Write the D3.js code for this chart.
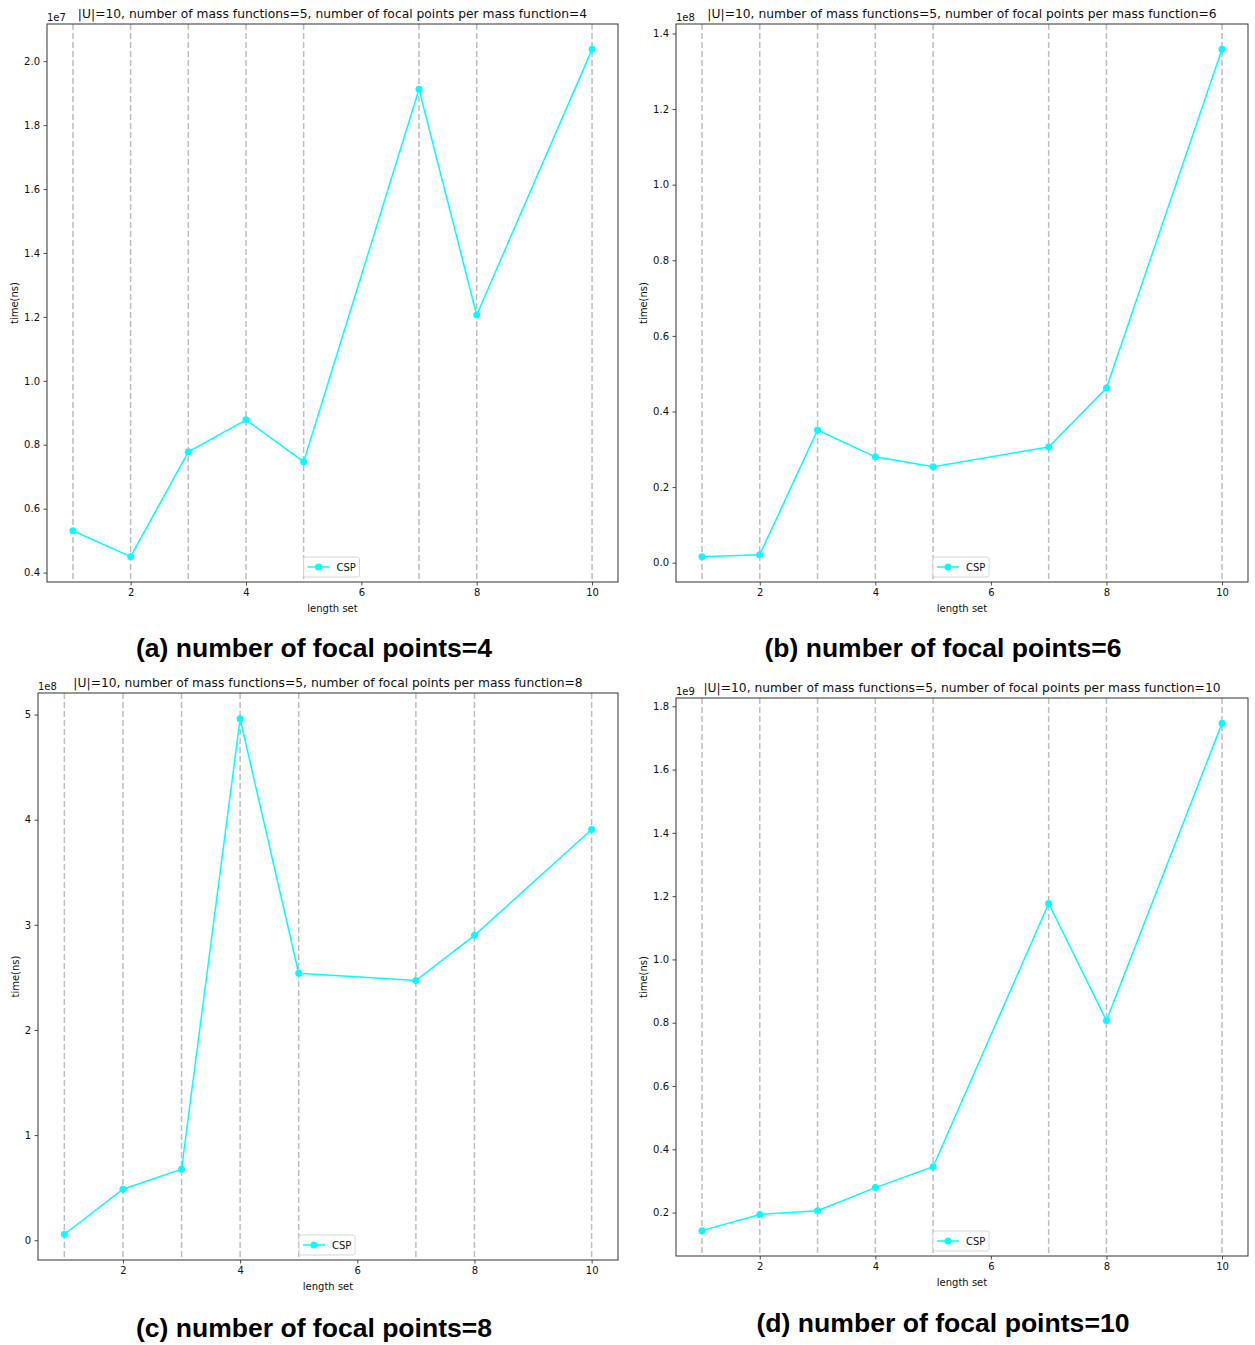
<!DOCTYPE html>
<html>
<head>
<meta charset="utf-8">
<script src="https://cdn.jsdelivr.net/npm/d3@7"></script>
<style>
  html, body { margin: 0; padding: 0; background: #ffffff; }
  svg { display: block; }
</style>
</head>
<body>
<svg id="chart" width="1255" height="1345"></svg>
<script>
// ---------------- DATA ----------------
const lengthSet = [1, 2, 3, 4, 5, 7, 8, 10];           // x values (length set)
const xTicks = [2, 4, 6, 8, 10];

// time(ns), expressed in units of the offset shown above each axis
const cspFocal4  = [0.531, 0.450, 0.778, 0.878, 0.747, 1.912, 1.206, 2.037]; // x1e7
const cspFocal6  = [0.016, 0.021, 0.351, 0.280, 0.254, 0.306, 0.462, 1.358]; // x1e8
const cspFocal8  = [0.057, 0.485, 0.675, 4.960, 2.540, 2.470, 2.900, 3.907]; // x1e8
const cspFocal10 = [0.143, 0.194, 0.206, 0.279, 0.345, 1.177, 0.807, 1.746]; // x1e9

const yTicks4  = [0.4, 0.6, 0.8, 1.0, 1.2, 1.4, 1.6, 1.8, 2.0];
const yTicks6  = [0.0, 0.2, 0.4, 0.6, 0.8, 1.0, 1.2, 1.4];
const yTicks8  = [0, 1, 2, 3, 4, 5];
const yTicks10 = [0.2, 0.4, 0.6, 0.8, 1.0, 1.2, 1.4, 1.6, 1.8];

const offsets = ["1e7", "1e8", "1e8", "1e9"];
const titles = [
  "|U|=10, number of mass functions=5, number of focal points per mass function=4",
  "|U|=10, number of mass functions=5, number of focal points per mass function=6",
  "|U|=10, number of mass functions=5, number of focal points per mass function=8",
  "|U|=10, number of mass functions=5, number of focal points per mass function=10"
];
const captions = [
  "(a) number of focal points=4",
  "(b) number of focal points=6",
  "(c) number of focal points=8",
  "(d) number of focal points=10"
];
const seriesName = "CSP";
const xLabel = "length set";
const yLabel = "time(ns)";

// ---------------- LAYOUT ----------------
const panels = [
  { vals: cspFocal4,  ticks: yTicks4,  fmt: ".1f", box: {l: 47,  r: 618,  t: 24,  b: 582},  cap: {x: 314, y: 657, w: 356} },
  { vals: cspFocal6,  ticks: yTicks6,  fmt: ".1f", box: {l: 676, r: 1248, t: 24,  b: 582},  cap: {x: 943, y: 657, w: 357} },
  { vals: cspFocal8,  ticks: yTicks8,  fmt: "d",   box: {l: 38,  r: 618,  t: 693, b: 1260}, cap: {x: 314, y: 1337, w: 356} },
  { vals: cspFocal10, ticks: yTicks10, fmt: ".1f", box: {l: 676, r: 1248, t: 698, b: 1256}, cap: {x: 943, y: 1332, w: 373} }
];

const svg = d3.select("#chart");
const FONT = "DejaVu Sans, sans-serif";
const CYAN = "#00ffff";

panels.forEach((p, i) => {
  const b = p.box;
  const xMin = d3.min(lengthSet), xMax = d3.max(lengthSet);
  const xPad = (xMax - xMin) * 0.05;
  const x = d3.scaleLinear().domain([xMin - xPad, xMax + xPad]).range([b.l, b.r]);
  const yMin = d3.min(p.vals), yMax = d3.max(p.vals);
  const yPad = (yMax - yMin) * 0.05;
  const y = d3.scaleLinear().domain([yMin - yPad, yMax + yPad]).range([b.b, b.t]);

  const g = svg.append("g");

  // vertical dashed lines at each x value
  g.selectAll("line.vl").data(lengthSet).enter().append("line")
    .attr("x1", d => x(d)).attr("x2", d => x(d))
    .attr("y1", b.t).attr("y2", b.b)
    .attr("stroke", "#bdbdbd").attr("stroke-width", 1.5)
    .attr("stroke-dasharray", "6,3");

  // line
  const pts = lengthSet.map((d, j) => [d, p.vals[j]]);
  g.append("path").datum(pts)
    .attr("fill", "none").attr("stroke", CYAN).attr("stroke-width", 1.5)
    .attr("d", d3.line().x(d => x(d[0])).y(d => y(d[1])));
  g.selectAll("circle.pt").data(pts).enter().append("circle")
    .attr("cx", d => x(d[0])).attr("cy", d => y(d[1])).attr("r", 3.5)
    .attr("fill", CYAN);

  // axes
  const xAxis = d3.axisBottom(x).tickValues(xTicks).tickSize(3.5).tickPadding(3.5).tickFormat(d3.format("d"));
  const yAxis = d3.axisLeft(y).tickValues(p.ticks).tickSize(3.5).tickPadding(3.5).tickFormat(d3.format(p.fmt));
  const gx = g.append("g").attr("transform", `translate(0,${b.b})`).call(xAxis);
  const gy = g.append("g").attr("transform", `translate(${b.l},0)`).call(yAxis);
  [gx, gy].forEach(a => {
    a.select(".domain").remove();
    a.selectAll("text").attr("font-family", FONT).attr("font-size", 10).attr("fill", "#111");
    a.selectAll("line").attr("stroke", "#222").attr("stroke-width", 0.8);
  });

  // frame
  g.append("rect").attr("x", b.l).attr("y", b.t).attr("width", b.r - b.l).attr("height", b.b - b.t)
    .attr("fill", "none").attr("stroke", "#333").attr("stroke-width", 1);

  // offset text
  g.append("text").attr("x", b.l).attr("y", b.t - 3.5)
    .attr("font-family", FONT).attr("font-size", 10).attr("fill", "#111").text(offsets[i]);

  // title
  g.append("text").attr("x", (b.l + b.r) / 2).attr("y", b.t - 6)
    .attr("text-anchor", "middle").attr("font-family", FONT).attr("font-size", 12.3)
    .attr("fill", "#111").text(titles[i]);

  // axis labels
  g.append("text").attr("x", (b.l + b.r) / 2).attr("y", b.b + 30)
    .attr("text-anchor", "middle").attr("font-family", FONT).attr("font-size", 10)
    .attr("fill", "#111").text(xLabel);
  const ylx = b.l - 3.5 - 3.5 - (p.fmt === "d" ? 7 : 17) - 5;
  g.append("text")
    .attr("transform", `translate(${ylx},${(b.t + b.b) / 2}) rotate(-90)`)
    .attr("text-anchor", "middle").attr("font-family", FONT).attr("font-size", 10)
    .attr("fill", "#111").text(yLabel);

  // legend (lower center)
  const lw = 56, lh = 20;
  const lx = (b.l + b.r) / 2 - lw / 2 - 1, ly = b.b - 5 - lh;
  const lg = g.append("g");
  lg.append("rect").attr("x", lx).attr("y", ly).attr("width", lw).attr("height", lh)
    .attr("rx", 2).attr("fill", "#fff").attr("fill-opacity", 0.8)
    .attr("stroke", "#d6d6d6").attr("stroke-width", 1);
  lg.append("line").attr("x1", lx + 4).attr("x2", lx + 26).attr("y1", ly + lh / 2).attr("y2", ly + lh / 2)
    .attr("stroke", CYAN).attr("stroke-width", 1.5);
  lg.append("circle").attr("cx", lx + 15).attr("cy", ly + lh / 2).attr("r", 3.5).attr("fill", CYAN);
  lg.append("text").attr("x", lx + 33).attr("y", ly + lh / 2 + 3.5)
    .attr("font-family", FONT).attr("font-size", 10).attr("fill", "#111").text(seriesName);

  // caption
  svg.append("text").attr("x", p.cap.x).attr("y", p.cap.y)
    .attr("text-anchor", "middle")
    .attr("font-family", "Liberation Sans, Arial, sans-serif").attr("font-weight", "bold")
    .attr("font-size", 25)
    .attr("textLength", p.cap.w).attr("lengthAdjust", "spacingAndGlyphs")
    .text(captions[i]);
});
</script>
</body>
</html>
